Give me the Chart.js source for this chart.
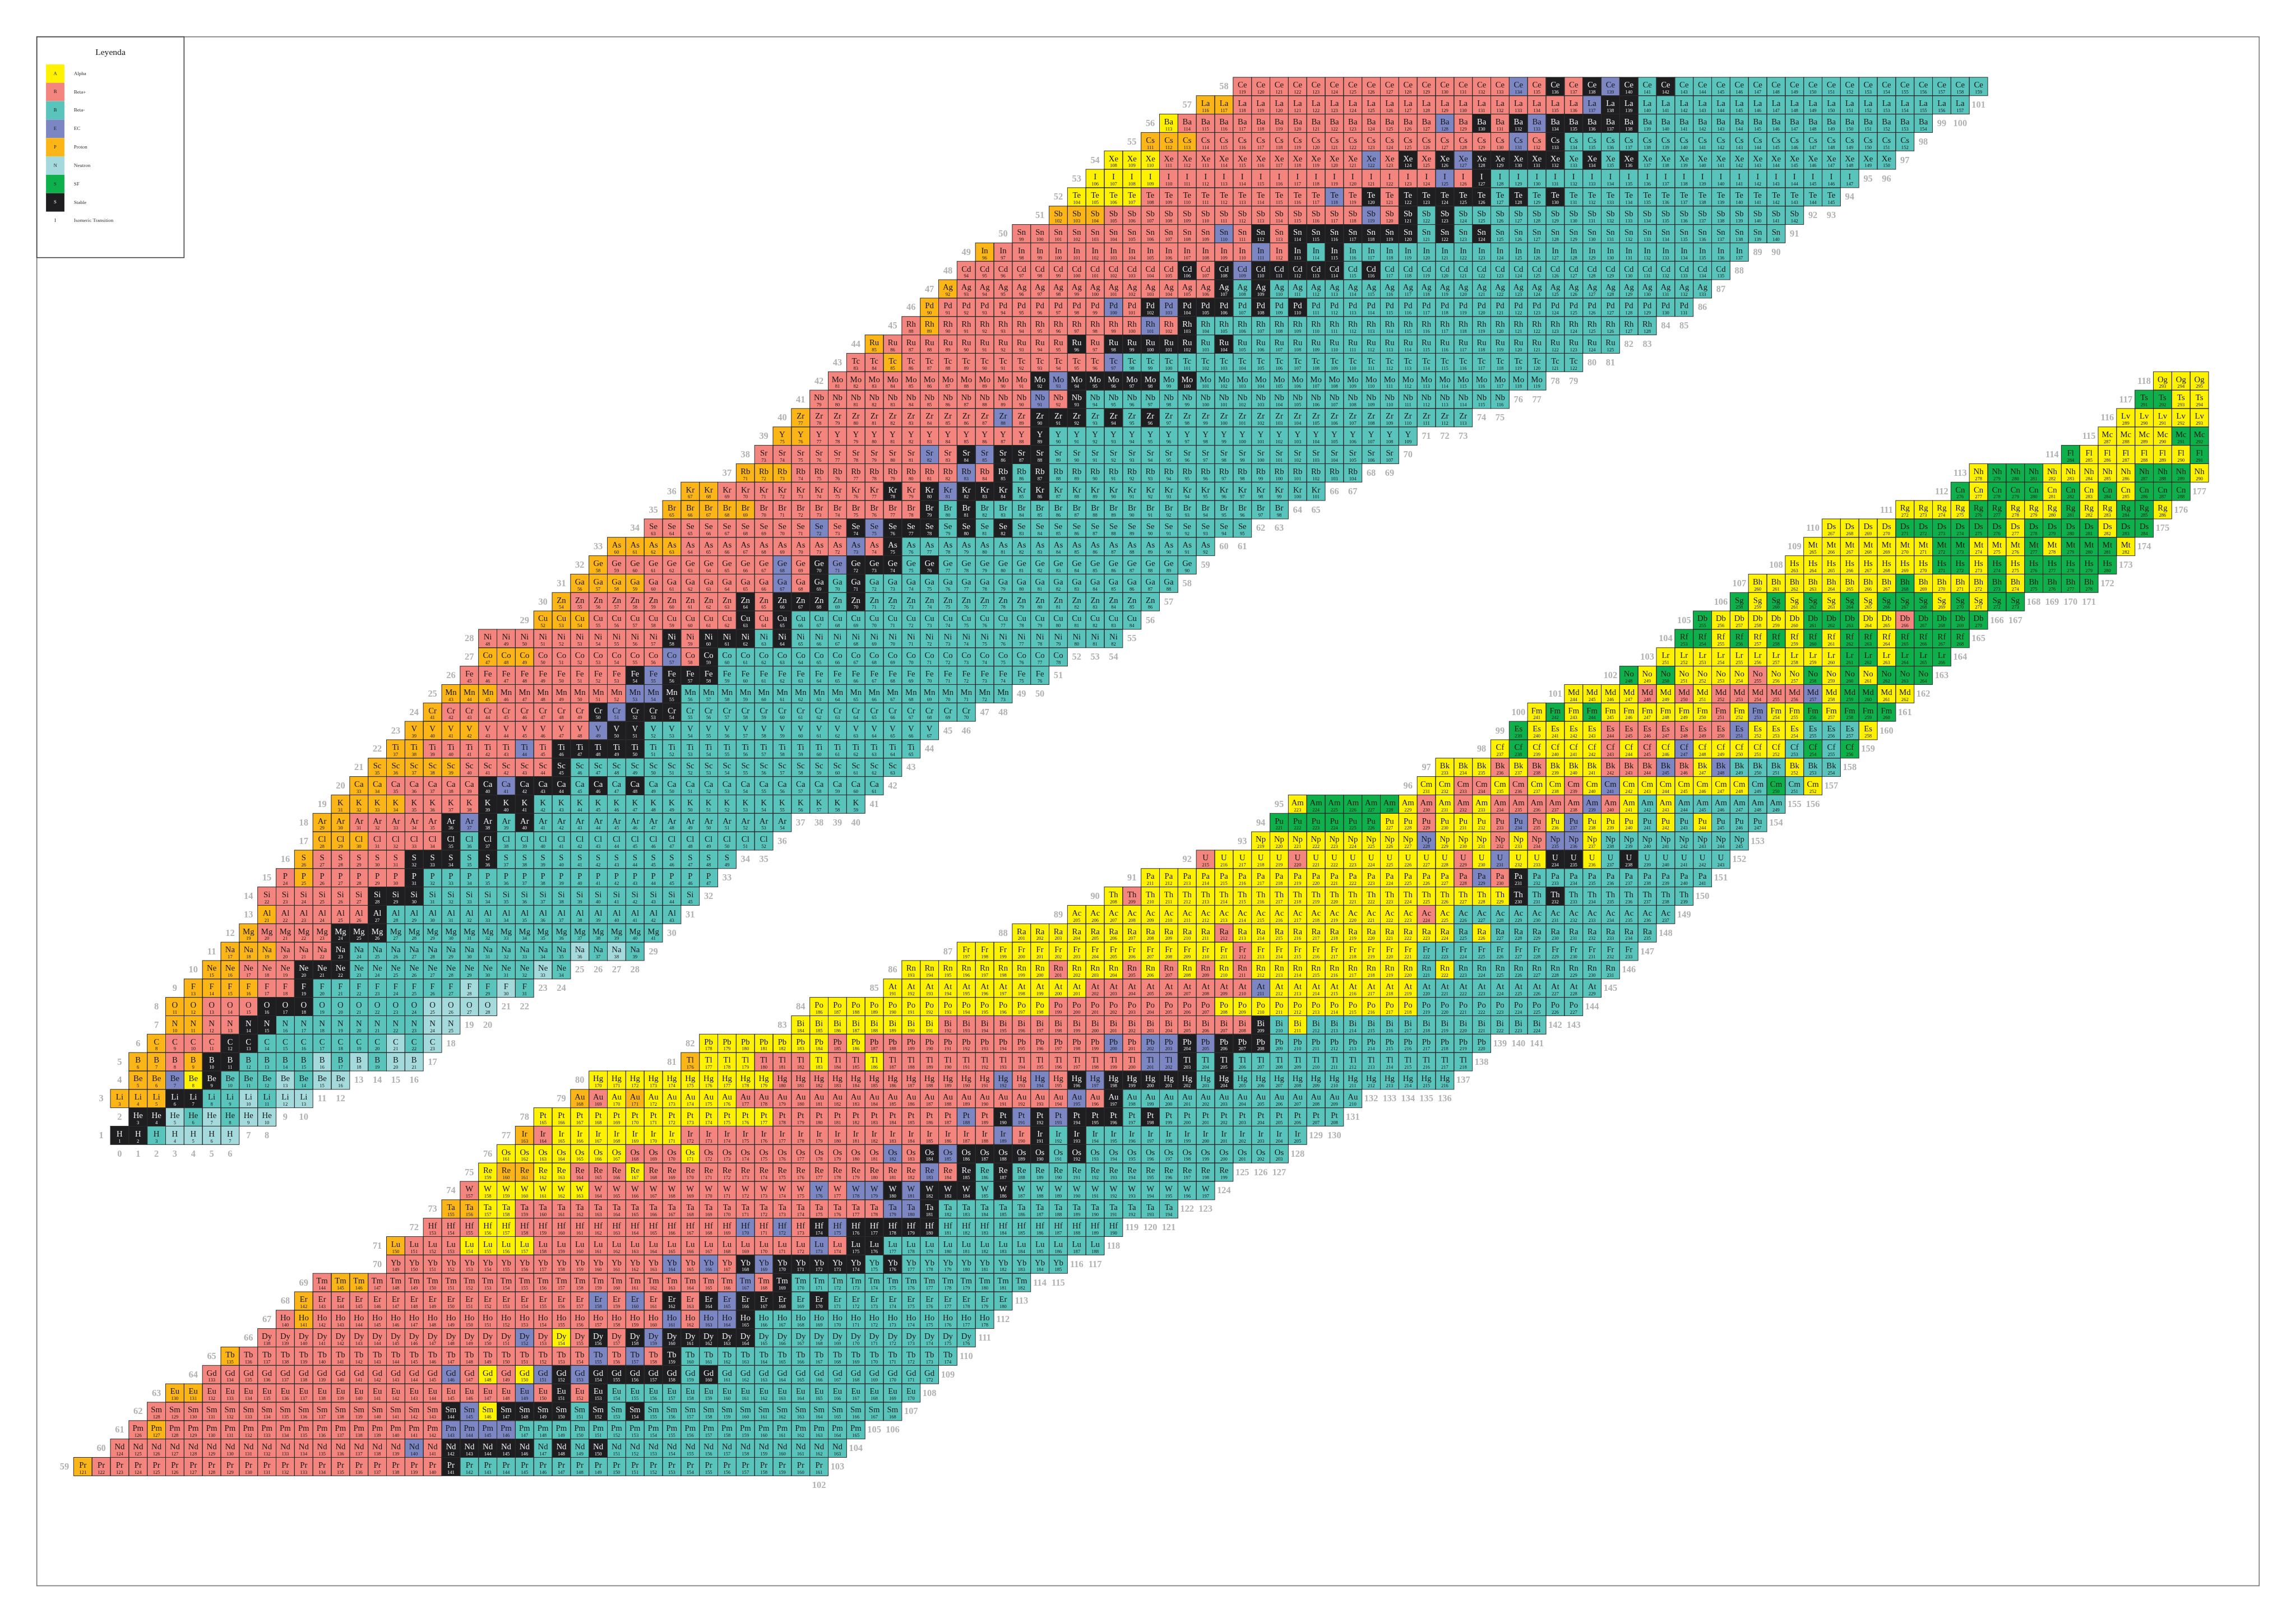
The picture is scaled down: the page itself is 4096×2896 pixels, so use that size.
<!DOCTYPE html>
<html><head><meta charset="utf-8">
<script src="https://cdn.jsdelivr.net/npm/chart.js@4/dist/chart.umd.min.js"></script>
<style>html,body{margin:0;padding:0;background:#fff;overflow:hidden}canvas{display:block}</style>
</head><body>
<canvas id="c" width="4096" height="2896"></canvas>
<script>
// ---------- data ----------
const symbols = ["H","He","Li","Be","B","C","N","O","F","Ne","Na","Mg","Al","Si","P","S","Cl","Ar","K","Ca","Sc","Ti","V","Cr","Mn","Fe","Co","Ni","Cu","Zn","Ga","Ge","As","Se","Br","Kr","Rb","Sr","Y","Zr","Nb","Mo","Tc","Ru","Rh","Pd","Ag","Cd","In","Sn","Sb","Te","I","Xe","Cs","Ba","La","Ce","Pr","Nd","Pm","Sm","Eu","Gd","Tb","Dy","Ho","Er","Tm","Yb","Lu","Hf","Ta","W","Re","Os","Ir","Pt","Au","Hg","Tl","Pb","Bi","Po","At","Rn","Fr","Ra","Ac","Th","Pa","U","Np","Pu","Am","Cm","Bk","Cf","Es","Fm","Md","No","Lr","Rf","Db","Sg","Bh","Hs","Mt","Ds","Rg","Cn","Nh","Fl","Mc","Lv","Ts","Og"];
// lightest neutron number shown for each Z (Z = index + 1)
const nMin = [0,1,0,1,1,2,3,3,4,5,6,7,8,8,9,10,11,11,12,13,14,15,16,17,18,19,20,20,23,24,25,26,27,29,30,31,34,35,36,37,38,39,40,41,43,44,45,46,47,49,51,52,53,54,56,57,59,61,
62,64,65,66,67,69,70,72,73,74,75,79,79,81,82,83,84,85,86,87,89,90,95,96,101,102,106,107,110,113,116,118,120,123,126,127,128,135,136,139,140,141,143,146,148,149,150,152,153,155,156,157,161,164,165,170,172,173,174,175];
// decay mode of each isotope, run-length coded from nMin upward
// A alpha, p beta+, m beta-, E EC, P proton, n neutron, F SF, S stable
const modeRuns = [
"S2m1n4","S2n1m1n1m1n2","P3S2m2n1m1n2","P2E1A1S1m3n1m1n2","P2p1P1S2m4n1m1n1m1n2",
"P1p3S2m7n1m1n1","P2p2S2m8n2","P2p3S3m6n4","P4p2S1m8n1m1n1m1","P2p3S3m10n1m1",
"P3p3S1m12n1m1n1m1","P1p4S3m15","P1p5S1m16","p6S3m15","p1P1p5S1m16",
"P1p5S3m1S1m13","P3p4S1m1S1m15","P2p5S1E1S1m1S1m14","P4p4S3m18","P2p5S1E1S3m1S1m1S1m13",
"P5p5S1m18","P2p5E1p1S5m15","P4p6E1S2m16","P1p8S1E1S3m16","P3p7E2S1m18",
"p9S1E1S3m18","P3p7E1p1S1m19","p10S1p1S3m1S1m18","P3p8S1p1S1m19","P1p9S1p1S3m1S1m16",
"P4p7E1p1S1m1S1m17","P1p9E1p1S1E1S3m1S1m14","P4p9E1p1S1m17","p9E1p1S1E1S3m1S1m1S1m13","P5p9S1m1S1m17",
"P2p9S1p1S1E1S3m1S1m15","P3p9E1p1S1m1S1m17","p9E1p1S1E1S3m19","P2p12S1m20","P1p10E1p1S3m1S1m1S1m17",
"p12E1p1S1m23","p11S1E1S5m1S1m19","p2P1p11E1m25","P1p10S1p1S5m1S1m21","p1P1p11E1p1S1m25",
"P1p9E1p1S1E1S3m1S1m1S1m21","P1p14S1m1S1m24","p12S1p1S1E1S5m1S1m19","P1p14E1p1S1m1S1m22","p11E1p1S1p1S7m1S1m1S1m16",
"P3p14E1p1S1m1S1m19","A4p10E1p1S1p1S5m1S1m1S1m15","A4p15E1p1S1m20","A3p11E1p1S1p1S1E1S5m1S1m1S1m14","P3p17E1p1S1m19",
"A1p14E1p1S1p1S1E1S5m16","P2p19E1S2m18","p15E1p1S1p1S1E1S1m1S1m17",
"P1p19S1m20","p16E1p1S5m1S1m1S1m13","p1P1p15E4m19","p16S1E1A1S4m1S1m1S1m14","P2p17E1p1S1p1S1m17",
"p13E1p1A1p1A1E1S1E1S5m1S1m12","P1p19E1p1E1p1S1m15","p14E1p1A1p1S1p1S1E1S5m12","p1P1p19E1p1E2S1m13","P1p15E1p1E1p1S1p1S1E1S3m1S1m10",
"p1P2p20E1p1S1m13","p15E1p1E1p1S1E1S5m1S1m9","P1p3A4p15E1p1S2m12","p3A2p12E1p1E1p1S1E1S5m10","P2A2p20E2S1m13",
"p1A6p12E1p1E2S1E1S3m1S1m11","A1P2A2p3A1p15E1p1S1m1S1m12","A7p3A1p10E1p1S1E1S5m1S1m11","P1p1A7p17E1p1S1m1S1m12","A13p10E1p1S1E1S1E1S3m1S1m10",
"P1p1A1P1A5p18E1p1S1m13","A10p12E1p1E1p1S1E1S5m1S1m12","P1A3p3A1p2A1p14E2S1m1S1m13","A7p1A1p13E1p1E2S1E1S3m12","A8p17S1m1A1m13",
"A13p9A11m9","A11p9E1A8m10","A8p1A3p1A1p1A1p1A1p1A9m1A1m9","A15p1A9m12","A11p1A12m1A1m9",
"A19p1A1m12","A1p1A20S1m1S1m7","A17p1E1p1S1m10","p1A4p1A8p1A1E1A2S2A1m1S1m5","A9E1A3p1A1p1E2A1m8",
"F6A2p1A3p1E1p1A1E1A3m1A1m1A1m3","A1F5A1p1A1p1A1p5E1p1A1m1A1m6","A2p2A1p1A2p1A1E1A7m1F1m1A1","A3p1A1p1A3p3E1p1A1E1m3A1m2","A1F1A4p1A1p1A1E1A5m1F1m1F1",
"F1A4p7E1A3m3A1","A1F1A1F1A6p1A1E1A2F1A1F3","A4p1A1p1A1p5E1A1F2A2","F1A1F1A4p1A2F1A1F1A1F3","A10F2A1F3",
"F2A1F1A1F1A1F1A1F2A1F4","F1A5F3A2p1F4","F1A1F1A1F1A1F1A1F3A1F1A1F2","A8F1A4F1A1F4","A8F2A1F1A1F5",
"A7F2A3F1A1F3A1","A4F6A1F4A1F2","A4F2A3F1A2F2A1","F1A1F3A1F1A1F1A1F3","A1F3A5F3A1",
"F1A6F1","A4F2","A5","F2A2","A3"];
const panel2FirstZ = 59;
const modeCodes  = ["A","p","m","E","P","n","F","S"];
const modeNames  = ["Alpha","Beta+","Beta-","EC","Proton","Neutron","SF","Stable"];
const modeLetters= ["A","B","B","E","P","N","S","S"];
const modeColors = ["#fff200","#f4857e","#59c4bc","#7b86c2","#fbb516","#a4dadb","#0db04b","#1e1e20"];
const legendTitle = "Leyenda";
const legendExtra = ["I","Isomeric Transition"];

// ---------- build datasets ----------
function expand(rle){ let s=""; rle.replace(/([A-Za-z])(\d+)/g,(m,c,n)=>{s+=c.repeat(+n);}); return s; }
const rows = symbols.map((sym,i)=>{ const Z=i+1; const modes=expand(modeRuns[i]); return {Z,sym,n0:nMin[i],n1:nMin[i]+modes.length-1,modes}; });
// panel 1 holds Z < 59, panel 2 (shifted down-left) holds Z >= 59
function place(Z,N,panel){ return panel===1 ? {x:N, y:Z-1} : {x:N-64, y:Z-77}; }
const panelOf = Z => Z<panel2FirstZ?1:2;
const datasets = modeCodes.map((c,k)=>({label:modeNames[k],code:c,backgroundColor:modeColors[k],data:[],pointRadius:0,pointHoverRadius:0}));
rows.forEach(r=>{ for(let N=r.n0;N<=r.n1;N++){ const c=r.modes[N-r.n0]; const k=modeCodes.indexOf(c); const p=place(r.Z,N,panelOf(r.Z));
  datasets[k].data.push({x:p.x+0.5,y:p.y+0.5,sym:r.sym,A:r.Z+N}); } });
// axis tick labels: proton numbers (left of each row) and neutron numbers (under each column)
const zTicks = rows.map(r=>{ const p=place(r.Z,r.n0-1,panelOf(r.Z)); return {x:p.x+0.5,y:p.y+0.5,t:String(r.Z)}; });
const nTicks = [];
const p1 = rows.filter(r=>r.Z<panel2FirstZ), p2 = rows.filter(r=>r.Z>=panel2FirstZ);
const maxN1 = Math.max(...p1.map(r=>r.n1)), maxN2 = Math.max(...p2.map(r=>r.n1));
for(let N=0;N<=maxN2;N++){ const pan = N<=maxN1?1:2; const set = pan===1?p1:p2; const lows=set.filter(r=>N>=r.n0&&N<=r.n1); if(!lows.length) continue;
  const zl=Math.min(...lows.map(r=>r.Z)); const p=place(zl-1,N,pan); nTicks.push({x:p.x+0.5,y:p.y+0.5,t:String(N)}); }

// ---------- drawing ----------
const SERIF="'Liberation Serif','DejaVu Serif','Times New Roman',serif";
const plugin = {id:'nuclides', afterDatasetsDraw(chart){
  const ctx=chart.ctx, xs=chart.scales.x, ys=chart.scales.y;
  const u = xs.getPixelForValue(1)-xs.getPixelForValue(0); // one cell, px
  const k = u/40;
  const RX = px=>xs.getPixelForValue((px-240)/40), RY = py=>ys.getPixelForValue((2488-py)/40);
  ctx.save();
  chart.data.datasets.forEach(ds=>{
    ds.data.forEach(d=>{
      const cx=xs.getPixelForValue(d.x), cy=ys.getPixelForValue(d.y);
      ctx.fillStyle=ds.backgroundColor; ctx.fillRect(cx-u/2,cy-u/2,u,u);
    });
  });
  ctx.strokeStyle='#2b2b2b'; ctx.lineWidth=Math.max(1,1.1*k);
  chart.data.datasets.forEach(ds=>{ ds.data.forEach(d=>{ const cx=xs.getPixelForValue(d.x), cy=ys.getPixelForValue(d.y);
      ctx.strokeRect(cx-u/2,cy-u/2,u,u); }); });
  ctx.textAlign='center'; ctx.textBaseline='alphabetic';
  chart.data.datasets.forEach(ds=>{
    const light = ds.code==='S';
    ctx.fillStyle = light?'#f2f2f2':'#141414';
    ds.data.forEach(d=>{
      const cx=xs.getPixelForValue(d.x), top=ys.getPixelForValue(d.y)-u/2;
      ctx.font=(18*k)+'px '+SERIF; ctx.fillText(d.sym,cx,top+22.3*k);
      ctx.font=(10.5*k)+'px '+SERIF; ctx.fillText(String(d.A),cx,top+35.5*k);
    });
  });
  ctx.fillStyle='#b1b1b1'; ctx.font='bold '+(20*k)+'px '+SERIF; ctx.textBaseline='middle';
  zTicks.concat(nTicks).forEach(t=>ctx.fillText(t.t,xs.getPixelForValue(t.x),ys.getPixelForValue(t.y)+1*k));
  ctx.strokeStyle='#777'; ctx.lineWidth=2*k;
  ctx.strokeRect(RX(80),RY(80),RX(4910)-RX(80),RY(3447)-RY(80));
  ctx.fillStyle='#fff'; ctx.fillRect(RX(81),RY(81),RX(399)-RX(81),RY(559)-RY(81));
  ctx.strokeStyle='#444'; ctx.lineWidth=2*k;
  ctx.strokeRect(RX(80),RY(80),RX(400)-RX(80),RY(560)-RY(80));
  ctx.fillStyle='#111'; ctx.font=(19*k)+'px '+SERIF; ctx.textAlign='center';
  ctx.fillText(legendTitle,RX(240),RY(114));
  modeCodes.forEach((c,i)=>{
    const y0=140+40*i;
    ctx.fillStyle=modeColors[i]; ctx.fillRect(RX(100),RY(y0),RX(140)-RX(100),RY(y0+40)-RY(y0));
    ctx.fillStyle = c==='S'?'#eee':'#222'; ctx.font=(10.5*k)+'px '+SERIF; ctx.textAlign='center';
    ctx.fillText(modeLetters[i],RX(120),RY(y0+20));
    ctx.fillStyle='#333'; ctx.textAlign='left'; ctx.font=(11*k)+'px '+SERIF;
    ctx.fillText(modeNames[i],RX(160.5),RY(y0+20));
  });
  ctx.fillStyle='#222'; ctx.textAlign='center'; ctx.font=(10.5*k)+'px '+SERIF; ctx.fillText(legendExtra[0],RX(120),RY(480));
  ctx.fillStyle='#333'; ctx.textAlign='left'; ctx.font=(11*k)+'px '+SERIF; ctx.fillText(legendExtra[1],RX(160.5),RY(480));
  ctx.restore();
}};

new Chart(document.getElementById('c'),{
  type:'scatter',
  data:{datasets},
  options:{
    responsive:false, devicePixelRatio:1, animation:false,
    layout:{padding:0},
    plugins:{legend:{display:false},tooltip:{enabled:false}},
    events:[],
    scales:{
      x:{type:'linear',display:false,min:-6,max:118.75},
      y:{type:'linear',display:false,min:-26,max:62.2}
    }
  },
  plugins:[plugin]
});
</script>
</body></html>
